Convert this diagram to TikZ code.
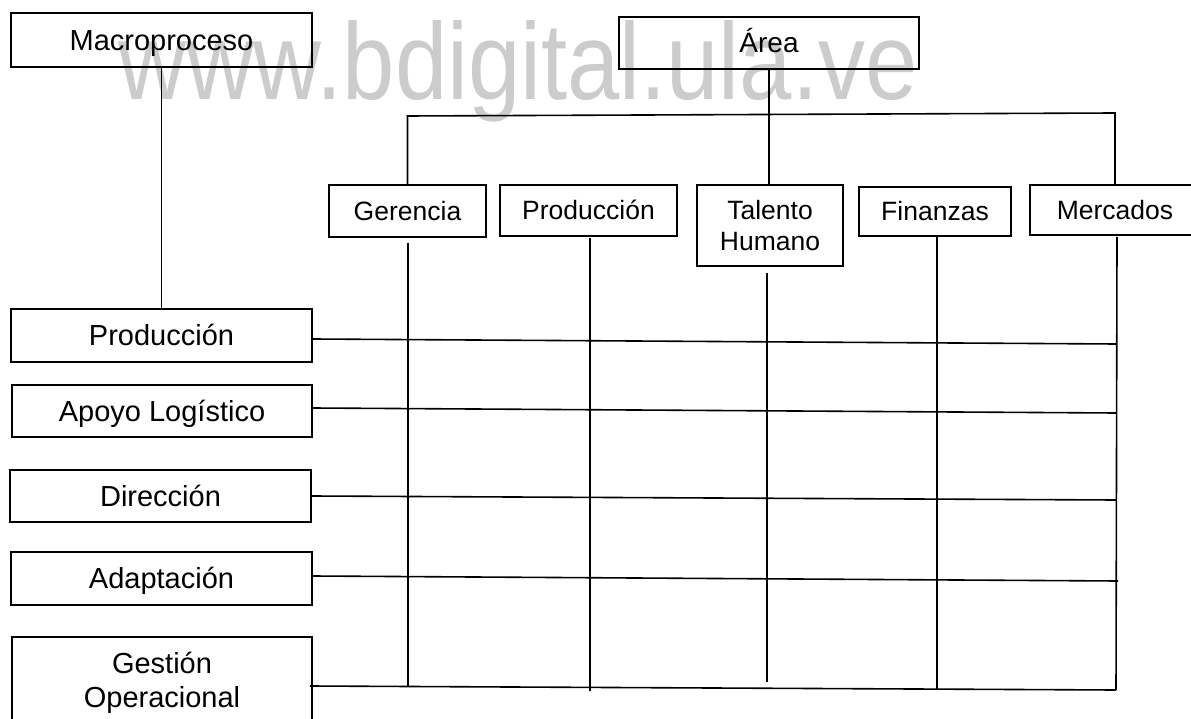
\documentclass[tikz,border=0pt]{standalone}
\usepackage{graphicx}
\usepackage{fontspec}
\setmainfont{Liberation Sans}
\definecolor{wmgray}{RGB}{204,204,204}
\begin{document}
\begin{tikzpicture}[x=1pt,y=-1pt,
  box/.style={draw, line width=1.6pt, inner sep=0pt, anchor=center, align=center},
  rowbox/.style={box, font=\fontsize{29}{34}\selectfont, text height=20.8pt, text depth=0pt},
  rowbox2/.style={box, font=\fontsize{29}{34}\selectfont},
  colbox/.style={box, font=\fontsize{26.5}{31}\selectfont, text height=19pt, text depth=0pt},
  colbox2/.style={box, font=\fontsize{26.5}{31}\selectfont},
  link/.style={line width=1.6pt}]
\useasboundingbox (0,0) rectangle (1191,719);
\clip (0,0) rectangle (1191,719);

% site watermark behind everything
\node[anchor=base west, inner sep=0pt, text=wmgray, font=\fontsize{94}{94}\selectfont] (wm) at (118,100)
  {\scalebox{1}[1.16]{www.bdigital.ula.ve}};

% top-level boxes
\node[rowbox, minimum width=301pt, minimum height=54pt] (macro) at (161.5,40) {Macroproceso};
\node[box, font=\fontsize{28}{33}\selectfont, text height=20pt, text depth=0pt,
      minimum width=300pt, minimum height=52pt] (area) at (769,43) {Área};

% area columns
\node[colbox, minimum width=157pt, minimum height=52pt] (ger) at (407.5,211) {Gerencia};
\node[colbox, minimum width=177pt, minimum height=51pt] (prodc) at (588.5,210.5) {Producción};
\node[colbox2, minimum width=146pt, minimum height=81pt] (tal) at (770,225.5) {Talento\\Humano};
\node[colbox, minimum width=152pt, minimum height=49pt] (fin) at (935,211.5) {Finanzas};
\node[colbox, minimum width=170pt, minimum height=50pt] (merc) at (1115,210) {Mercados};

% macroprocess rows
\node[rowbox, minimum width=301pt, minimum height=53pt] (rprod) at (161.5,335.5) {Producción};
\node[rowbox, minimum width=300pt, minimum height=52pt] (rapoyo) at (162,411) {Apoyo Logístico};
\node[rowbox, minimum width=301pt, minimum height=52pt] (rdir) at (160.5,496) {Dirección};
\node[rowbox, minimum width=301pt, minimum height=53pt] (radap) at (161.5,578.5) {Adaptación};
\node[rowbox2, minimum width=300pt, minimum height=91pt] (rgest) at (162,682.5) {Gestión\\Operacional};

% hierarchy links
\draw[link] (macro.south) -- (rprod.north);
\draw[link] (area.south) -- (area.south |- tal.north);
\coordinate (barL) at (408,116);
\coordinate (barR) at (1115,113);
\draw[link] (ger.north) -- (ger.north |- barL) -- (barR) -- (merc.north);

% grid: column lines
\coordinate (gerTop) at (408,243);   \coordinate (gerEnd) at (408,686);
\coordinate (proTop) at (590,238);   \coordinate (proEnd) at (590,691);
\coordinate (talTop) at (767,273);   \coordinate (talEnd) at (767,682);
\coordinate (finTop) at (937,237);   \coordinate (finEnd) at (937,689);
\coordinate (merTop) at (1117,237);  \coordinate (merEnd) at (1116,690);
\draw[link] (gerTop) -- (gerEnd);
\draw[link] (proTop) -- (proEnd);
\draw[link] (talTop) -- (talEnd);
\draw[link] (finTop) -- (finEnd);
\draw[link] (merTop) -- (merEnd);

% grid: row lines
\coordinate (r1) at (1116,344);
\coordinate (r2) at (1116,413);
\coordinate (r3) at (1116,500);
\coordinate (r4) at (1118,581);
\coordinate (r5) at (1116,690);
\draw[link] (rprod.east |- 0,339) -- (r1);
\draw[link] (rapoyo.east |- 0,408) -- (r2);
\draw[link] (rdir.east |- 0,496) -- (r3);
\draw[link] (radap.east |- 0,576) -- (r4);
\draw[link] ([xshift=-3pt]rgest.east |- 0,686) -- (r5);
\end{tikzpicture}
\end{document}
